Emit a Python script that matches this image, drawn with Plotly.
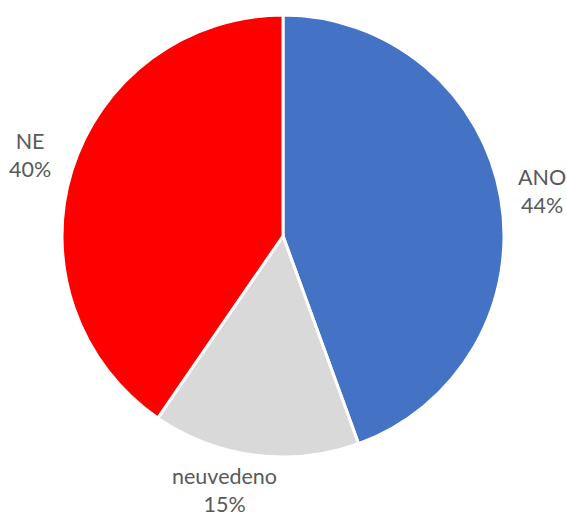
import plotly.graph_objects as go

# Survey answers, clockwise from 12 o'clock
labels = ["ANO", "neuvedeno", "NE"]
values = [44, 15, 40]
colors = ["#4472C4", "#D9D9D9", "#FF0000"]

W, H = 567, 516

fig = go.Figure(go.Pie(
    labels=labels,
    values=values,
    sort=False,
    direction="clockwise",
    rotation=0,
    marker=dict(colors=colors, line=dict(color="white", width=3)),
    textinfo="none",
    hoverinfo="label+percent",
    domain=dict(x=[62 / W, 504 / W], y=[1 - 457 / H, 1 - 15 / H]),
    showlegend=False,
))

# Category labels placed outside the pie, percentages computed from the values
total = sum(values)
label_pos = {"ANO": (542, 191), "neuvedeno": (224, 490), "NE": (30, 155)}
for lab, val in zip(labels, values):
    px, py = label_pos[lab]
    fig.add_annotation(
        x=px / W, y=1 - py / H, xref="paper", yref="paper",
        text=f"{lab}<br>{round(100 * val / total)}%",
        showarrow=False, xanchor="center", yanchor="middle",
        font=dict(family="Lato", size=21.5, color="#595959"),
    )

fig.update_layout(
    width=W, height=H,
    margin=dict(l=0, r=0, t=0, b=0),
    paper_bgcolor="white",
    plot_bgcolor="white",
)

fig.write_html("out.html")
